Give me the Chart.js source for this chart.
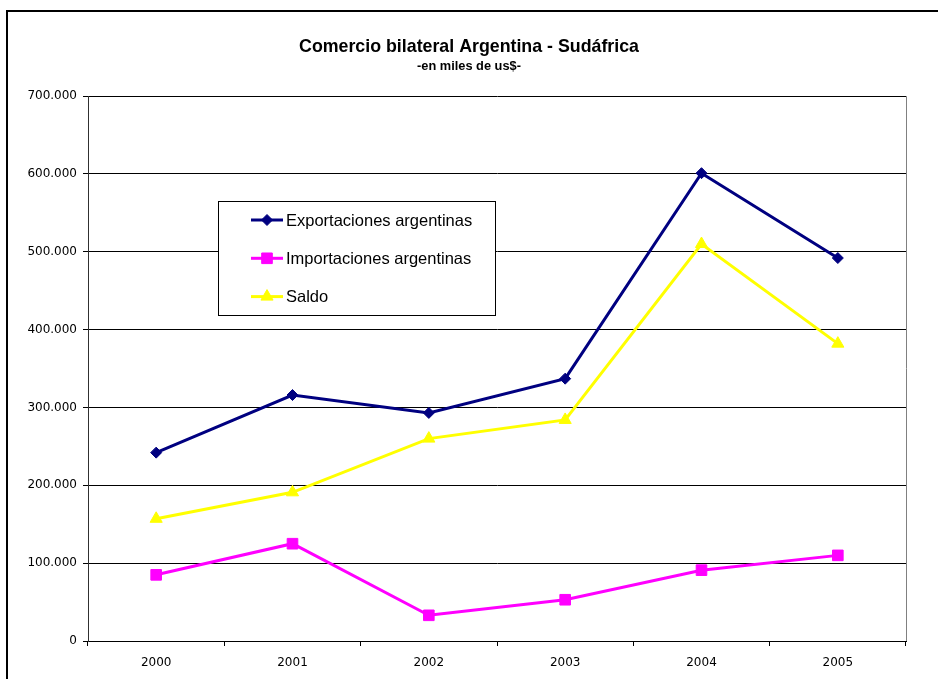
<!DOCTYPE html>
<html>
<head>
<meta charset="utf-8">
<script src="https://cdn.jsdelivr.net/npm/chart.js@4"></script>
<style>
html, body { margin: 0; padding: 0; background: #ffffff; }
#wrap { position: relative; width: 938px; height: 679px; overflow: hidden; }
</style>
</head>
<body>
<div id="wrap"><canvas id="c" width="938" height="679"></canvas></div>
<script>
// ---- data ----
const years = ['2000', '2001', '2002', '2003', '2004', '2005'];
const exportaciones = [242000, 316000, 293000, 337000, 601000, 492000];
const importaciones = [85000, 125000, 33000, 53000, 91000, 110000];
const saldo = [157000, 191000, 260000, 284000, 510000, 382000];
const seriesNames = ['Exportaciones argentinas', 'Importaciones argentinas', 'Saldo'];
const yMin = 0, yMax = 700000, yStep = 100000;
const titleText = 'Comercio bilateral Argentina - Sudáfrica';
const subtitleText = '-en miles de us$-';

function fmtThousands(v) {
  return String(v).replace(/\B(?=(\d{3})+(?!\d))/g, '.');
}

const framePlugin = {
  id: 'frame',
  beforeDraw(chart) {
    const ctx = chart.ctx;
    ctx.save();
    ctx.strokeStyle = '#000000';
    ctx.lineWidth = 2;
    ctx.strokeRect(7, 11, 1000, 1000);
    ctx.restore();
  },
  beforeDatasetsDraw(chart) {
    const ctx = chart.ctx, a = chart.chartArea;
    ctx.save();
    ctx.strokeStyle = '#808080';
    ctx.lineWidth = 1;
    ctx.beginPath();
    ctx.moveTo(Math.round(a.right) + 0.5, a.top);
    ctx.lineTo(Math.round(a.right) + 0.5, a.bottom);
    ctx.stroke();
    ctx.restore();
  }
};

const boxLegend = {
  id: 'boxLegend',
  afterDatasetsDraw(chart, args, o) {
    const ctx = chart.ctx;
    ctx.save();
    ctx.fillStyle = '#ffffff';
    ctx.fillRect(o.x, o.y, o.w, o.h);
    ctx.strokeStyle = '#000000';
    ctx.lineWidth = 1;
    ctx.strokeRect(o.x + 0.5, o.y + 0.5, o.w, o.h);
    chart.data.datasets.forEach((ds, i) => {
      const cy = o.y + o.firstRow + i * o.rowH;
      const lx = o.x + o.padLeft;
      ctx.strokeStyle = ds.borderColor;
      ctx.lineWidth = ds.borderWidth;
      ctx.beginPath();
      ctx.moveTo(lx, cy);
      ctx.lineTo(lx + o.lineLen, cy);
      ctx.stroke();
      ctx.fillStyle = ds.pointBackgroundColor;
      ctx.strokeStyle = ds.pointBorderColor;
      ctx.lineWidth = 1;
      Chart.helpers.drawPoint(ctx, { pointStyle: ds.pointStyle, radius: ds.pointRadius, borderWidth: 1, rotation: 0 }, lx + o.lineLen / 2, cy);
      ctx.fillStyle = '#000000';
      ctx.font = o.font;
      ctx.textBaseline = 'middle';
      ctx.textAlign = 'left';
      ctx.fillText(ds.label, lx + o.lineLen + 3, cy + 1);
    });
    ctx.restore();
  }
};

const tickFont = { family: 'DejaVu Sans', size: 12 };

new Chart(document.getElementById('c'), {
  type: 'line',
  data: {
    labels: years,
    datasets: [
      {
        label: seriesNames[0], data: exportaciones,
        borderColor: '#000080', backgroundColor: '#000080',
        pointBackgroundColor: '#000080', pointBorderColor: '#000080',
        borderWidth: 3, pointStyle: 'rectRot', pointRadius: 5.5, pointBorderWidth: 1, tension: 0
      },
      {
        label: seriesNames[1], data: importaciones,
        borderColor: '#FF00FF', backgroundColor: '#FF00FF',
        pointBackgroundColor: '#FF00FF', pointBorderColor: '#FF00FF',
        borderWidth: 3, pointStyle: 'rect', pointRadius: 7.5, pointBorderWidth: 1, tension: 0
      },
      {
        label: seriesNames[2], data: saldo,
        borderColor: '#FFFF00', backgroundColor: '#FFFF00',
        pointBackgroundColor: '#FFFF00', pointBorderColor: '#FFFF00',
        borderWidth: 3, pointStyle: 'triangle', pointRadius: 7, pointBorderWidth: 1, tension: 0
      }
    ]
  },
  options: {
    responsive: false,
    animation: false,
    devicePixelRatio: 1,
    layout: { padding: { left: 0, right: 0, top: 0, bottom: 0 } },
    plugins: {
      legend: { display: false },
      tooltip: { enabled: false },
      title: {
        display: true, text: titleText, color: '#000000',
        font: { family: 'Liberation Sans', size: 17.8, weight: 'bold', lineHeight: 1.2 },
        padding: { top: 36.3, bottom: 0 }
      },
      subtitle: {
        display: true, text: subtitleText, color: '#000000',
        font: { family: 'Liberation Sans', size: 12.8, weight: 'bold', lineHeight: 1.2 },
        padding: { top: 1.6, bottom: 21.5 }
      },
      boxLegend: {
        x: 218, y: 201, w: 277, h: 114, firstRow: 19, rowH: 38.3, padLeft: 33, lineLen: 32,
        font: '16.5px "Liberation Sans", Arial, sans-serif'
      }
    },
    scales: {
      x: {
        offset: true,
        grid: { offset: true, drawOnChartArea: false, drawTicks: true, tickLength: 5, color: '#000000' },
        border: { display: true, color: '#000000', width: 1 },
        ticks: { color: '#000000', font: tickFont, padding: 10, maxRotation: 0 },
        afterFit(scale) { scale.height = 38; }
      },
      y: {
        min: yMin, max: yMax,
        grid: { color: '#000000', lineWidth: 1, drawTicks: true, tickLength: 5 },
        border: { display: true, color: '#303030', width: 1 },
        ticks: { stepSize: yStep, color: '#000000', font: tickFont, padding: 6, callback: v => fmtThousands(v) },
        afterFit(scale) { scale.width = 88; }
      },
      yRightSpace: {
        position: 'right',
        display: true,
        grid: { display: false, drawTicks: false },
        border: { display: false },
        ticks: { display: false },
        afterFit(scale) { scale.width = 32; }
      }
    }
  },
  plugins: [framePlugin, boxLegend]
});
</script>
</body>
</html>
